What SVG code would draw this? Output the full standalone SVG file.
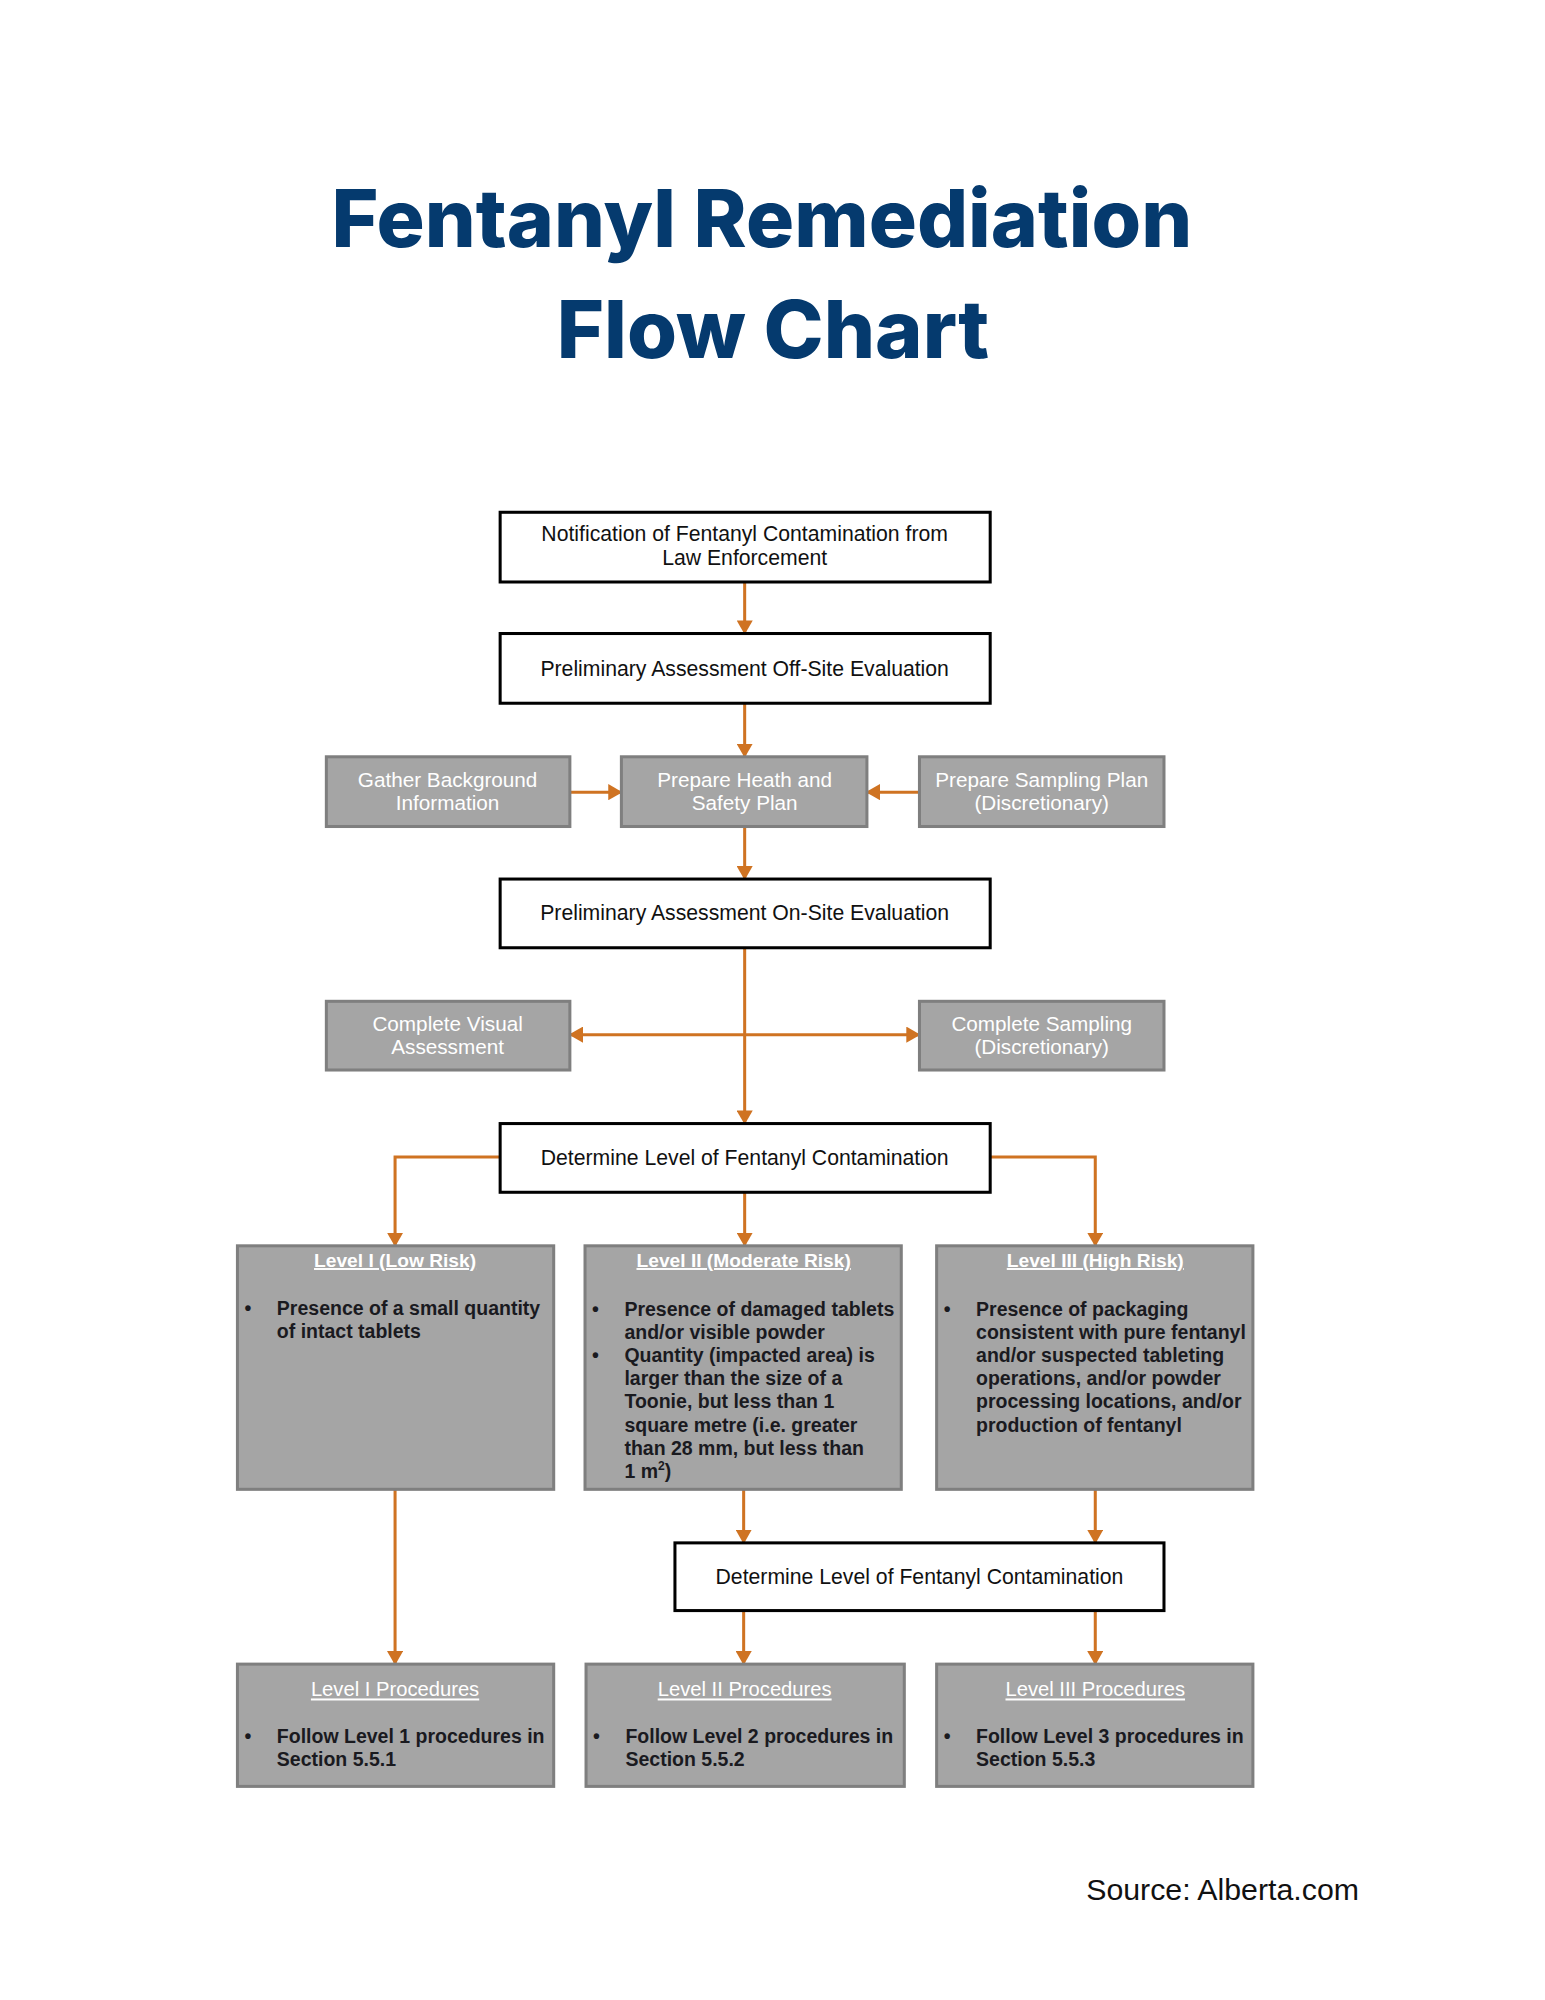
<svg xmlns="http://www.w3.org/2000/svg" width="1545" height="2000" viewBox="0 0 1545 2000">
<defs>
<style>
.title{font-family:Inter,"Open Sans","Liberation Sans",sans-serif;font-weight:800;font-size:79px;fill:#053a6e;text-anchor:middle}
.wbox{fill:#ffffff;stroke:#000000;stroke-width:3}
.gbox{fill:#a5a5a5;stroke:#7f7f7f;stroke-width:3}
.bt{font-family:"Liberation Sans",Arial,sans-serif;font-size:21px;fill:#111111;text-anchor:middle}
.gt{font-family:"Liberation Sans",Arial,sans-serif;font-size:20.5px;fill:#ffffff;text-anchor:middle}
.lt{font-family:"Liberation Sans",Arial,sans-serif;font-size:19px;font-weight:bold;fill:#ffffff;text-anchor:middle;text-decoration:underline}
.pt{font-family:"Liberation Sans",Arial,sans-serif;font-size:20px;fill:#ffffff;text-anchor:middle;text-decoration:underline}
.li{font-family:"Liberation Sans",Arial,sans-serif;font-size:19.3px;font-weight:bold;fill:#1a1a1f}
.conn{fill:none;stroke:#cf7322;stroke-width:3}
.src{font-family:"Liberation Sans",Arial,sans-serif;font-size:30px;fill:#111111}
</style>
<marker id="ah" markerUnits="userSpaceOnUse" viewBox="0 0 14 16" markerWidth="14" markerHeight="16" refX="13" refY="8" orient="auto-start-reverse">
<path d="M0,0 L14,8 L0,16 z" fill="#cf7322"/>
</marker>
</defs>
<rect width="1545" height="2000" fill="#ffffff"/>
<g id="diagram" transform="scale(1.0104)">
<g id="title">
<text class="title" x="754" y="244" textLength="852" lengthAdjust="spacingAndGlyphs">Fentanyl Remediation</text>
<text class="title" x="765" y="354" textLength="428" lengthAdjust="spacingAndGlyphs">Flow Chart</text>
</g>
<g id="connectors">
<path class="conn" d="M737,576 V627" marker-end="url(#ah)"/>
<path class="conn" d="M737,696 V749" marker-end="url(#ah)"/>
<path class="conn" d="M564,784 H615" marker-end="url(#ah)"/>
<path class="conn" d="M910,784 H858" marker-end="url(#ah)"/>
<path class="conn" d="M737,818 V870" marker-end="url(#ah)"/>
<path class="conn" d="M737,938 V1112" marker-end="url(#ah)"/>
<path class="conn" d="M564,1024 H910" marker-start="url(#ah)" marker-end="url(#ah)"/>
<path class="conn" d="M495,1145 H391 V1233" marker-end="url(#ah)"/>
<path class="conn" d="M737,1180 V1233" marker-end="url(#ah)"/>
<path class="conn" d="M980,1145 H1084 V1233" marker-end="url(#ah)"/>
<path class="conn" d="M391,1474 V1647" marker-end="url(#ah)"/>
<path class="conn" d="M736,1474 V1527" marker-end="url(#ah)"/>
<path class="conn" d="M1084,1474 V1527" marker-end="url(#ah)"/>
<path class="conn" d="M736,1594 V1647" marker-end="url(#ah)"/>
<path class="conn" d="M1084,1594 V1647" marker-end="url(#ah)"/>
</g>
<g id="notification">
<rect class="wbox" x="495" y="507" width="485" height="69"/>
<text class="bt" x="737" y="535">Notification of Fentanyl Contamination from</text>
<text class="bt" x="737" y="559">Law Enforcement</text>
</g>
<g id="offsite">
<rect class="wbox" x="495" y="627" width="485" height="69"/>
<text class="bt" x="737" y="669">Preliminary Assessment Off-Site Evaluation</text>
</g>
<g id="gather">
<rect class="gbox" x="323" y="749" width="241" height="69"/>
<text class="gt" x="443" y="779">Gather Background</text>
<text class="gt" x="443" y="802">Information</text>
</g>
<g id="healthsafety">
<rect class="gbox" x="615" y="749" width="243" height="69"/>
<text class="gt" x="737" y="779">Prepare Heath and</text>
<text class="gt" x="737" y="802">Safety Plan</text>
</g>
<g id="samplingplan">
<rect class="gbox" x="910" y="749" width="242" height="69"/>
<text class="gt" x="1031" y="779">Prepare Sampling Plan</text>
<text class="gt" x="1031" y="802">(Discretionary)</text>
</g>
<g id="onsite">
<rect class="wbox" x="495" y="870" width="485" height="68"/>
<text class="bt" x="737" y="911">Preliminary Assessment On-Site Evaluation</text>
</g>
<g id="visual">
<rect class="gbox" x="323" y="991" width="241" height="68"/>
<text class="gt" x="443" y="1020">Complete Visual</text>
<text class="gt" x="443" y="1043">Assessment</text>
</g>
<g id="sampling">
<rect class="gbox" x="910" y="991" width="242" height="68"/>
<text class="gt" x="1031" y="1020">Complete Sampling</text>
<text class="gt" x="1031" y="1043">(Discretionary)</text>
</g>
<g id="determine1">
<rect class="wbox" x="495" y="1112" width="485" height="68"/>
<text class="bt" x="737" y="1153">Determine Level of Fentanyl Contamination</text>
</g>
<g id="level1">
<rect class="gbox" x="235" y="1233" width="313" height="241"/>
<text class="lt" x="391" y="1254">Level I (Low Risk)</text>
<text class="li" x="242" y="1301">•</text>
<text class="li" x="274" y="1301">Presence of a small quantity</text>
<text class="li" x="274" y="1324">of intact tablets</text>
</g>
<g id="level2">
<rect class="gbox" x="579" y="1233" width="313" height="241"/>
<text class="lt" x="736" y="1254">Level II (Moderate Risk)</text>
<text class="li" x="586" y="1302">•</text>
<text class="li" x="586" y="1348">•</text>
<text class="li" x="618" y="1302">Presence of damaged tablets</text>
<text class="li" x="618" y="1325">and/or visible powder</text>
<text class="li" x="618" y="1348">Quantity (impacted area) is</text>
<text class="li" x="618" y="1371">larger than the size of a</text>
<text class="li" x="618" y="1394">Toonie, but less than 1</text>
<text class="li" x="618" y="1417">square metre (i.e. greater</text>
<text class="li" x="618" y="1440">than 28 mm, but less than</text>
<text class="li" x="618" y="1463">1 m<tspan font-size="12" dy="-8">2</tspan><tspan dy="8">)</tspan></text>
</g>
<g id="level3">
<rect class="gbox" x="927" y="1233" width="313" height="241"/>
<text class="lt" x="1084" y="1254">Level III (High Risk)</text>
<text class="li" x="934" y="1302">•</text>
<text class="li" x="966" y="1302">Presence of packaging</text>
<text class="li" x="966" y="1325">consistent with pure fentanyl</text>
<text class="li" x="966" y="1348">and/or suspected tableting</text>
<text class="li" x="966" y="1371">operations, and/or powder</text>
<text class="li" x="966" y="1394">processing locations, and/or</text>
<text class="li" x="966" y="1417">production of fentanyl</text>
</g>
<g id="determine2">
<rect class="wbox" x="668" y="1527" width="484" height="67"/>
<text class="bt" x="910" y="1568">Determine Level of Fentanyl Contamination</text>
</g>
<g id="proc1">
<rect class="gbox" x="235" y="1647" width="313" height="121"/>
<text class="pt" x="391" y="1679">Level I Procedures</text>
<text class="li" x="242" y="1725">•</text>
<text class="li" x="274" y="1725">Follow Level 1 procedures in</text>
<text class="li" x="274" y="1748">Section 5.5.1</text>
</g>
<g id="proc2">
<rect class="gbox" x="580" y="1647" width="315" height="121"/>
<text class="pt" x="737" y="1679">Level II Procedures</text>
<text class="li" x="587" y="1725">•</text>
<text class="li" x="619" y="1725">Follow Level 2 procedures in</text>
<text class="li" x="619" y="1748">Section 5.5.2</text>
</g>
<g id="proc3">
<rect class="gbox" x="927" y="1647" width="313" height="121"/>
<text class="pt" x="1084" y="1679">Level III Procedures</text>
<text class="li" x="934" y="1725">•</text>
<text class="li" x="966" y="1725">Follow Level 3 procedures in</text>
<text class="li" x="966" y="1748">Section 5.5.3</text>
</g>
<g id="source">
<text class="src" x="1075" y="1880">Source: Alberta.com</text>
</g>
</g>
</svg>
